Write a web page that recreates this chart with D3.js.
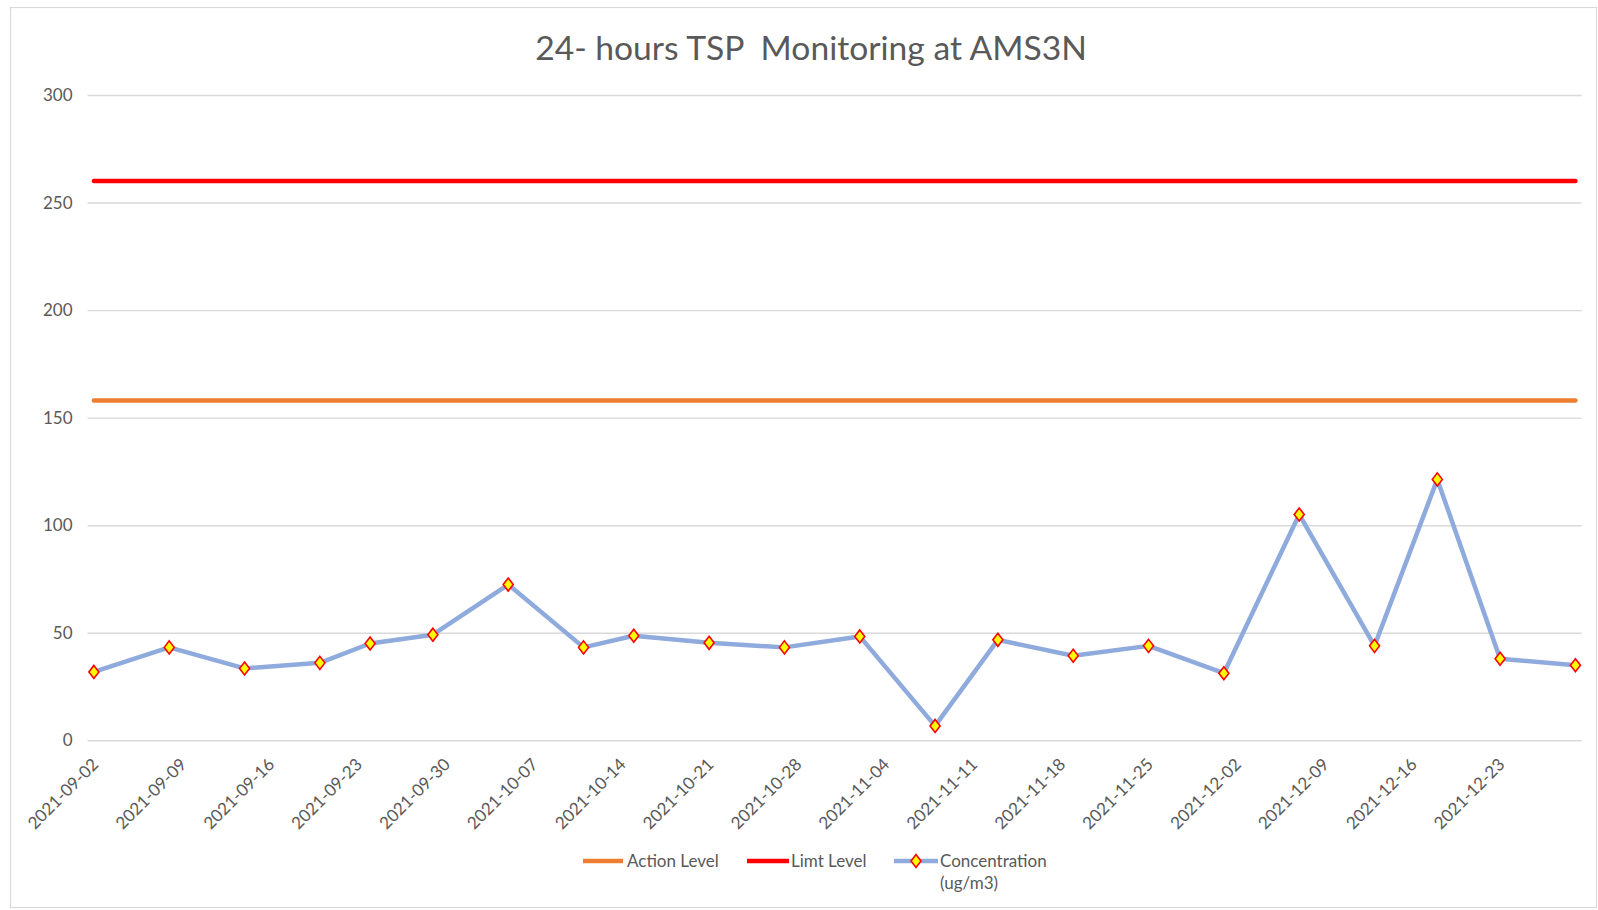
<!DOCTYPE html>
<html>
<head>
<meta charset="utf-8">
<script src="https://cdn.jsdelivr.net/npm/d3@7/dist/d3.min.js"></script>
<style>
  html, body { margin: 0; padding: 0; background: #fff; }
  svg { display: block; }
  text { font-family: Lato, "Open Sans", sans-serif; fill: #595959; }
</style>
</head>
<body>
<svg id="chart" width="1598" height="910"></svg>
<script>
// ---- data ----
const sampleDates = ["2021-09-02","2021-09-08","2021-09-14","2021-09-20","2021-09-24","2021-09-29",
  "2021-10-05","2021-10-11","2021-10-15","2021-10-21","2021-10-27","2021-11-02","2021-11-08",
  "2021-11-13","2021-11-19","2021-11-25","2021-12-01","2021-12-07","2021-12-13","2021-12-18",
  "2021-12-23","2021-12-29"];
const concentration = [31.8, 43.2, 33.4, 36.0, 45.0, 49.1, 72.4, 43.2, 48.6, 45.3, 43.2, 48.3, 6.7,
  46.7, 39.3, 43.9, 31.2, 105.0, 43.9, 121.3, 37.9, 34.9];
const actionLevel = 158;
const limitLevel = 260;
const yTicks = [0, 50, 100, 150, 200, 250, 300];
const xTickLabels = ["2021-09-02","2021-09-09","2021-09-16","2021-09-23","2021-09-30","2021-10-07",
  "2021-10-14","2021-10-21","2021-10-28","2021-11-04","2021-11-11","2021-11-18","2021-11-25",
  "2021-12-02","2021-12-09","2021-12-16","2021-12-23"];
const legendLabels = ["Action Level", "Limt Level", "Concentration", "(ug/m3)"];
const titleText = "24- hours TSP  Monitoring at AMS3N";

// ---- layout ----
const parse = d3.utcParse("%Y-%m-%d");
const svg = d3.select("#chart");
const colors = { action: "#ED7D31", limit: "#FF0000", conc: "#8FAADC", grid: "#D9D9D9" };

const dates = sampleDates.map(parse);
const halfDay = 12 * 3600 * 1000;
const x = d3.scaleUtc()
  .domain([new Date(+dates[0] - halfDay), new Date(+dates[dates.length - 1] + halfDay)])
  .range([87.6, 1581.7]);
const y = d3.scaleLinear().domain([0, 300]).range([740.3, 95]);

// chart border
svg.append("rect").attr("x", 10.5).attr("y", 7.5).attr("width", 1586).attr("height", 900)
  .attr("fill", "#fff").attr("stroke", colors.grid).attr("stroke-width", 1.2);

// title
const title = svg.append("text").attr("x", 811).attr("y", 60).attr("text-anchor", "middle")
  .attr("font-size", 33).style("white-space", "pre").attr("xml:space", "preserve").text(titleText);
const tw = title.node().getComputedTextLength();
title.attr("font-size", 33 * 552 / tw);

// y axis (gridlines + labels)
const yAxis = d3.axisLeft(y).tickValues(yTicks).tickSize(-(1581.7 - 87.6)).tickPadding(15);
const yg = svg.append("g").attr("transform", "translate(87.6,0)").call(yAxis);
yg.select(".domain").remove();
yg.selectAll(".tick line").attr("stroke", colors.grid).attr("stroke-width", 1.4);
yg.selectAll(".tick text").attr("font-size", 17).attr("fill", "#595959")
  .attr("font-family", "Lato, sans-serif");

// x axis labels
const xAxis = d3.axisBottom(x).tickValues(xTickLabels.map(parse)).tickSize(0)
  .tickFormat(d3.utcFormat("%Y-%m-%d"));
const xg = svg.append("g").attr("transform", "translate(0,740.3)").call(xAxis);
xg.select(".domain").remove();
xg.selectAll(".tick text")
  .attr("font-size", 17).attr("fill", "#595959").attr("font-family", "Lato, sans-serif")
  .attr("text-anchor", "end").attr("dy", "0.35em")
  .attr("transform", "translate(1,21) rotate(-45)")
  .attr("y", 0).attr("x", 0);

// level lines
const lineGen = d3.line().x(d => x(d[0])).y(d => y(d[1]));
const ext = d3.extent(dates);
svg.append("path").datum(ext.map(d => [d, actionLevel])).attr("d", lineGen)
  .attr("fill", "none").attr("stroke", colors.action).attr("stroke-width", 4.5).attr("stroke-linecap", "round");
svg.append("path").datum(ext.map(d => [d, limitLevel])).attr("d", lineGen)
  .attr("fill", "none").attr("stroke", colors.limit).attr("stroke-width", 4.5).attr("stroke-linecap", "round");

// concentration line
const concData = dates.map((d, i) => [d, concentration[i]]);
svg.append("path").datum(concData).attr("d", lineGen)
  .attr("fill", "none").attr("stroke", colors.conc).attr("stroke-width", 4.5)
  .attr("stroke-linejoin", "round").attr("stroke-linecap", "round");

const diamond = "M0,-6.5L5,0L0,6.5L-5,0Z";
svg.append("g").selectAll("path").data(concData).join("path")
  .attr("transform", d => `translate(${x(d[0])},${y(d[1])})`)
  .attr("d", diamond).attr("fill", "#FFFF00").attr("stroke", "#FF0000").attr("stroke-width", 1.6);

// legend
const lg = svg.append("g");
const ly = 861;
lg.append("line").attr("x1", 583).attr("x2", 623).attr("y1", ly).attr("y2", ly)
  .attr("stroke", colors.action).attr("stroke-width", 4.5);
lg.append("text").attr("x", 627).attr("y", ly).attr("dy", "0.35em").attr("font-size", 17).text(legendLabels[0]);
lg.append("line").attr("x1", 747).attr("x2", 789).attr("y1", ly).attr("y2", ly)
  .attr("stroke", colors.limit).attr("stroke-width", 4.5);
lg.append("text").attr("x", 791).attr("y", ly).attr("dy", "0.35em").attr("font-size", 17).text(legendLabels[1]);
lg.append("line").attr("x1", 894).attr("x2", 938).attr("y1", ly).attr("y2", ly)
  .attr("stroke", colors.conc).attr("stroke-width", 4.5);
lg.append("path").attr("transform", `translate(916,${ly})`).attr("d", diamond)
  .attr("fill", "#FFFF00").attr("stroke", "#FF0000").attr("stroke-width", 1.6);
lg.append("text").attr("x", 940).attr("y", ly).attr("dy", "0.35em").attr("font-size", 17).text(legendLabels[2]);
lg.append("text").attr("x", 940).attr("y", ly + 22).attr("dy", "0.35em").attr("font-size", 17).text(legendLabels[3]);
</script>
</body>
</html>
